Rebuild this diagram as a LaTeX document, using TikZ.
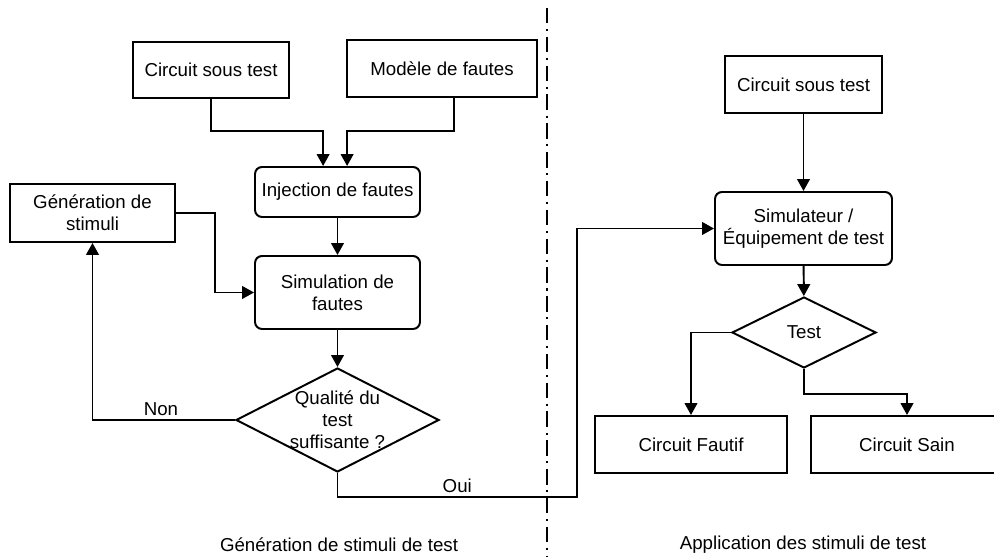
\documentclass[tikz,border=0pt]{standalone}
\usepackage{fontspec}
\setmainfont{Liberation Sans}
\usetikzlibrary{shapes.geometric,arrows.meta}

\begin{document}
\begin{tikzpicture}[font=\fontsize{13.3}{15.6}\selectfont,line width=1.4pt,
        >={Triangle[length=8.5pt,width=9pt]},
        boite/.style={draw,rectangle,inner sep=0pt,align=center},
        arrondi/.style={boite,rounded corners=5pt},
        losange/.style={draw,diamond,inner sep=0pt}]
        \useasboundingbox (0,0) rectangle (24.85,13.925);
        % generation des stimuli
        \node[boite,minimum width=3.9cm,minimum height=1.4cm](cst1)at(5.275,12.175){Circuit sous test};
        \node[boite,minimum width=4.75cm,minimum height=1.425cm](modele)at(11.05,12.2125){Modèle de fautes};
        \node[arrondi,minimum width=4.125cm,minimum height=1.25cm](inj)at(8.4375,9.125){Injection de fautes};
        \node[boite,minimum width=4.125cm,minimum height=1.45cm](gen)at(2.3125,8.6){Génération de\\stimuli};
        \node[arrondi,minimum width=4.125cm,minimum height=1.825cm](sim)at(8.4375,6.6125){Simulation de\\fautes};
        \node[losange,minimum width=5.075cm,minimum height=2.6cm,label={[align=center]center:Qualité du\\test\\suffisante ?}](qual)at(8.4375,3.425){};
        \draw[->](cst1.south)--++(0,-0.8)-|([xshift=-0.36cm]inj.north);
        \draw[->]([xshift=0.3cm]modele.south)--++(0,-0.825)-|([xshift=0.24cm]inj.north);
        \draw[->](inj)--(sim);
        \draw[->](gen.east)--++(0.975,0)|-(sim.west);
        \draw[->](sim)--(qual);
        \draw[->](qual.west)-|node[above,inner sep=2.5pt,pos=0.26]{Non}(gen.south);
        % application des stimuli
        \node[boite,minimum width=3.925cm,minimum height=1.425cm](cst2)at(20.0875,11.8125){Circuit sous test};
        \node[arrondi,minimum width=4.425cm,minimum height=1.825cm](simu)at(20.0875,8.2125){Simulateur /\\Équipement de test};
        \node[losange,minimum width=3.6cm,minimum height=1.775cm,label=center:Test](testd)at(20.1,5.6125){};
        \node[boite,minimum width=4.8cm,minimum height=1.425cm](faut)at(17.275,2.8125){Circuit Fautif};
        \node[boite,minimum width=4.8cm,minimum height=1.425cm](sain)at(22.675,2.8125){Circuit Sain};
        \coordinate (oui) at (14.425,1.5);
        \draw[->](qual.south)|-node[above,inner sep=2.5pt,pos=0.75]{Oui}(oui)|-(simu.west);
        \draw[->](cst2)--(simu);
        \draw[->](simu)--(testd);
        \draw[->](testd.west)-|(faut.north);
        \draw[->](testd.south)--++(0,-0.625)-|(sain.north);
        % separation
        \draw[line width=0.9pt,dash pattern=on 11pt off 4pt on 1.5pt off 4pt](13.675,13.725)--(13.675,0);
        \node(titre1)at(8.475,0.3){Génération de stimuli de test};
        \node(titre2)at(20.075,0.3){Application des stimuli de test};
\end{tikzpicture}
\end{document}
